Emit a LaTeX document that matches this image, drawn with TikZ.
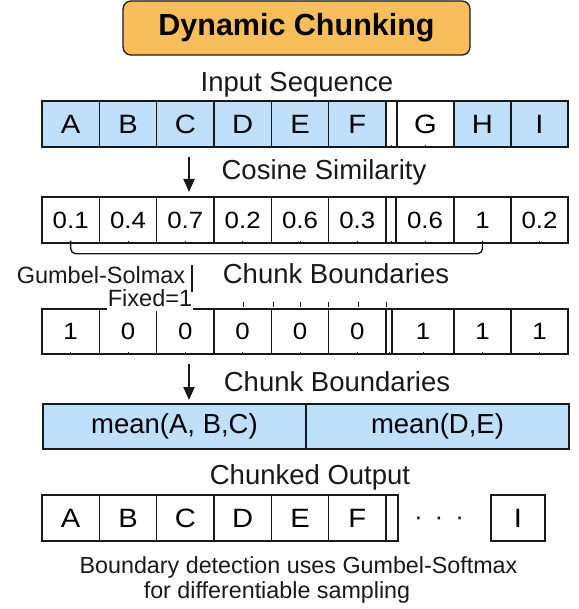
\documentclass[tikz,border=0pt]{standalone}
\usepackage{fontspec}
\setmainfont{Liberation Sans}
\newfontfamily\widefont{Liberation Sans}[FakeStretch=1.1]
\usetikzlibrary{arrows.meta,calc}
\definecolor{cellblue}{RGB}{190,224,250}
\definecolor{titleor}{RGB}{249,190,92}
\definecolor{ink}{RGB}{25,25,25}
\tikzset{
  cellbox/.style={draw=ink, line width=1.4pt, inner sep=0pt, minimum height=46pt},
  lettertxt/.style={font=\widefont\fontsize{26.5}{26.5}\selectfont},
  numtxt/.style={font=\widefont\fontsize{23.5}{23.5}\selectfont},
  lbl/.style={font=\fontsize{27.5}{27.5}\selectfont, inner sep=0pt, anchor=base, text=ink},
  smalllbl/.style={font=\fontsize{23.5}{23.5}\selectfont, inner sep=0pt, anchor=base, text=ink},
  notetxt/.style={font=\fontsize{23.3}{23.3}\selectfont, inner sep=0pt, anchor=base, text=ink},
  arr/.style={draw=ink, line width=2pt, -{Triangle[width=11pt,length=13pt]}},
  tick/.style={draw=ink, line width=0.8pt},
  brk/.style={draw=ink, line width=1.4pt, rounded corners=5pt}
}
\begin{document}
\begin{tikzpicture}[x=1pt,y=-1pt]
\useasboundingbox (0,0) rectangle (578,609);

% title
\node[draw=ink, fill=titleor, rounded corners=8pt, line width=1.3pt,
      minimum width=347pt, minimum height=54pt, inner sep=0pt,
      font=\bfseries\fontsize{30.5}{30.5}\selectfont] (title) at (296.5,28) {Dynamic Chunking};

% ---------- row 1 : input sequence
\node[lbl] (inseq) at (297,92) {Input Sequence};
\foreach \t [count=\i] in {A,B,C,D,E,F} {
  \node[cellbox, lettertxt, fill=cellblue, minimum width=57.33pt]
    (in\i) at ({42+(\i-1)*57.33+28.67},124) {\t};
}
\node[cellbox, minimum width=11pt] (ingap) at (391.5,124) {};
\node[cellbox, lettertxt, minimum width=57pt] (in7) at (425.5,124) {G};
\node[cellbox, lettertxt, fill=cellblue, minimum width=57pt] (in8) at (482.5,124) {H};
\node[cellbox, lettertxt, fill=cellblue, minimum width=57pt] (in9) at (539.5,124) {I};
\draw[tick] (ingap.south) -- ++(0,-3);
\draw[tick] (in7.south) -- ++(0,-3);

% arrow 1 + label
\coordinate (a1s) at (189,157);
\coordinate (a1e) at (189,192);
\draw[arr] (a1s) -- (a1e);
\node[lbl] (cos) at (324,180) {Cosine Similarity};

% ---------- row 2 : similarities
\foreach \t [count=\i] in {0.1,0.4,0.7,0.2,0.6,0.3} {
  \node[cellbox, numtxt, minimum width=57.33pt]
    (v\i) at ({42+(\i-1)*57.33+28.67},220) {\t};
}
\node[cellbox, minimum width=10pt] (vgap) at (391,220) {};
\node[cellbox, numtxt, minimum width=58pt] (v7) at (425,220) {0.6};
\node[cellbox, numtxt, minimum width=57pt] (v8) at (482.5,220) {1};
\node[cellbox, numtxt, minimum width=57pt] (v9) at (539.5,220) {0.2};
\foreach \n in {v2,v3,v4,v5,v6,vgap,v7,v9} { \draw[tick] (\n.south) -- ++(0,-3); }
\draw[brk] (v1.south) ++(0,-3) -- ++(0,13) -| ($(v8.south)+(0,-3)$);

% ---------- row 3 : boundaries
\node[smalllbl] (gum) at (101,283) {Gumbel-Solmax};
\node[lbl] (cb1) at (336,283) {Chunk Boundaries};
\foreach \t [count=\i] in {1,0,0,0,0,0} {
  \node[cellbox, numtxt, minimum width=57.33pt, minimum height=45pt]
    (b\i) at ({42+(\i-1)*57.33+28.67},331.5) {\t};
}
\node[cellbox, minimum width=6pt, minimum height=45pt] (bgap) at (389,331.5) {};
\node[cellbox, numtxt, minimum width=62pt, minimum height=45pt] (b7) at (423,331.5) {1};
\node[cellbox, numtxt, minimum width=57pt, minimum height=45pt] (b8) at (482.5,331.5) {1};
\node[cellbox, numtxt, minimum width=57pt, minimum height=45pt] (b9) at (539.5,331.5) {1};
\foreach \n in {b1,b2,b3,b4,b5,b6,bgap,b7,b8,b9} { \draw[tick] (\n.south) -- ++(0,-3); }
\foreach \x in {243,273,300,328,358,386} { \draw[tick] (\x,302) -- (\x,307); }
\node[smalllbl, fill=white, inner xsep=1pt, inner ysep=5pt] (fix) at (150,306) {Fixed=1};
\coordinate (bart) at (192,265);
\coordinate (barb) at (192,292);
\draw[draw=ink, line width=1.3pt] (bart) -- (barb);

% arrow 2 + label
\coordinate (a2s) at (189,364);
\coordinate (a2e) at (189,400);
\draw[arr] (a2s) -- (a2e);
\node[lbl] (cb2) at (337,391) {Chunk Boundaries};

% ---------- row 4 : means
\node[cellbox, fill=cellblue, minimum width=263pt, minimum height=45pt,
      font=\fontsize{27.5}{27.5}\selectfont] (m1) at (174.5,426.5) {mean(A, B,C)};
\node[cellbox, fill=cellblue, minimum width=263pt, minimum height=45pt,
      font=\fontsize{27.5}{27.5}\selectfont] (m2) at (437.5,426.5) {mean(D,E)};

% ---------- row 5 : output
\node[lbl] (outl) at (310,484) {Chunked Output};
\foreach \t [count=\i] in {A,B,C,D,E,F} {
  \node[cellbox, lettertxt, minimum width=57.33pt]
    (o\i) at ({42+(\i-1)*57.33+28.67},518) {\t};
}
\node[cellbox, minimum width=12pt] (ogap) at (392,518) {};
\node[font=\fontsize{26}{26}\selectfont, inner sep=0pt, anchor=base, text=ink] (dots) at (439,525) {·\hspace{12pt}·\hspace{12pt}·};
\node[cellbox, lettertxt, minimum width=54pt] (o9) at (518,518) {I};

% ---------- note
\node[notetxt] (note1) at (298.5,573) {Boundary detection uses Gumbel-Softmax};
\node[notetxt] (note2) at (277,598) {for differentiable sampling};
\end{tikzpicture}
\end{document}
